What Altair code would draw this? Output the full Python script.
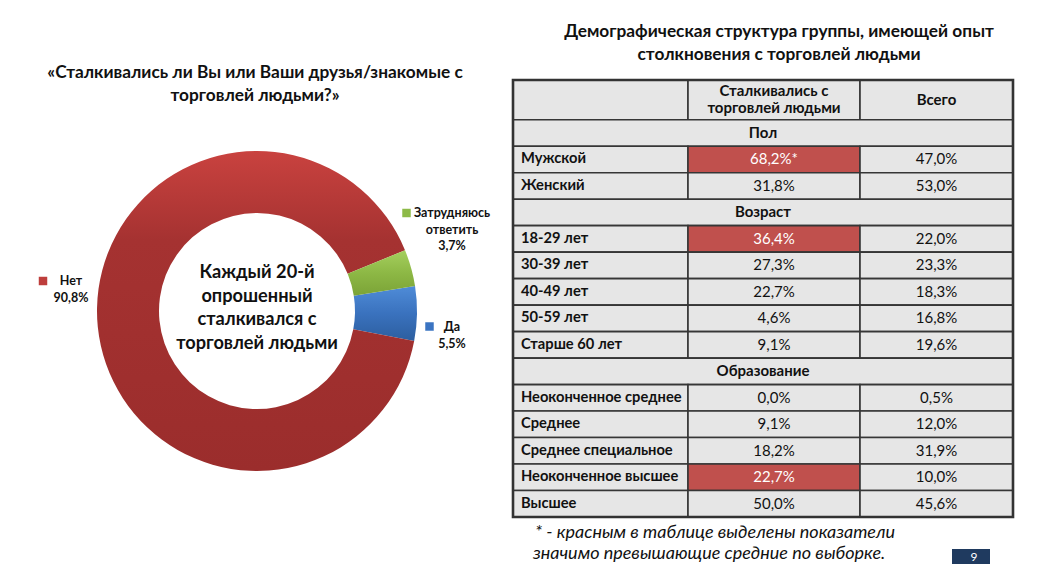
import math
import altair as alt
import pandas as pd

# ---------------- data ----------------
pie_categories = ["Да", "Нет", "Затрудняюсь ответить"]
pie_values = [5.5, 90.8, 3.7]
pie_label_names = ["Да", "Нет", "Затрудняюсь\nответить"]

section_titles = ["Пол", "Возраст", "Образование"]
row_labels = [
    ["Мужской", "Женский"],
    ["18-29 лет", "30-39 лет", "40-49 лет", "50-59 лет", "Старше 60 лет"],
    ["Неоконченное среднее", "Среднее", "Среднее специальное", "Неоконченное высшее", "Высшее"],
]
faced_values = [[68.2, 31.8], [36.4, 27.3, 22.7, 4.6, 9.1], [0.0, 9.1, 18.2, 22.7, 50.0]]
total_values = [[47.0, 53.0], [22.0, 23.3, 18.3, 16.8, 19.6], [0.5, 12.0, 31.9, 10.0, 45.6]]
highlighted = ["Мужской", "18-29 лет", "Неоконченное высшее"]
footnote_marked = ["Мужской"]
header_labels = ["", "Сталкивались с\nторговлей людьми", "Всего"]

left_title = "«Сталкивались ли Вы или Ваши друзья/знакомые с\nторговлей людьми?»"
right_title = "Демографическая структура группы, имеющей опыт\nстолкновения с торговлей людьми"
center_text = "Каждый 20-й\nопрошенный\nсталкивался с\nторговлей людьми"
footnote_lines = ["* - красным в таблице выделены показатели",
                  "значимо превышающие средние по выборке."]
page_number = "9"

# ---------------- layout / style ----------------
W, H = 1026, 556
FONT = "Lato, Roboto, sans-serif"
INK = "#111111"
GRAY = "#E6E6E6"
HL = "#C0504D"
GRID = "#363636"

TABLE_X = [505, 1005]
TABLE_Y = [72, 509]
COL_EDGES = [0, 175, 347, 500]
HEADER_UNITS = 1.5
N_UNITS = HEADER_UNITS + len(section_titles) + sum(len(r) for r in row_labels)
ROW_PX = (TABLE_Y[1] - TABLE_Y[0]) / N_UNITS
TABLE_LH = 17

PIE_CX, PIE_CY = 249, 303
R_OUT, R_IN = 160, 98
START = math.radians(81)

GRADIENTS = {
    "Нет": [("#C9423F", 0.0), ("#A53231", 0.28), ("#9B2D2C", 1.0)],
    "Да": [("#4F8CD8", 0.0), ("#3A72BE", 0.5), ("#2C5E9F", 1.0)],
    "Затрудняюсь ответить": [("#A5CF5E", 0.0), ("#8DB845", 0.5), ("#7BA337", 1.0)],
}
SQUARE_COLORS = {"Нет": "#BE3E3C", "Да": "#3A74C2", "Затрудняюсь ответить": "#8DBA48"}
LABEL_POS = {  # (square x, square y, text first-line center x, first-line y)
    "Нет": (35, 273, 63, 273),
    "Затрудняюсь ответить": (398.5, 205, 444, 205),
    "Да": (421.5, 318.5, 444, 319),
}


def fmt(v):
    return f"{v:.1f}".replace(".", ",") + "%"


# ---------------- donut ----------------
pie_df = pd.DataFrame({
    "category": pie_categories,
    "value": pie_values,
    "order": list(range(len(pie_categories))),
    "name": pie_label_names,
})
pie_df["label"] = pie_df["name"] + "\n" + pie_df["value"].map(fmt)

pie_base = (
    alt.Chart(pie_df)
    .transform_window(cum="sum(value)", sort=[alt.SortField("order")])
    .transform_calculate(start="datum.cum - datum.value")
)
theta_scale = alt.Scale(domain=[0, 100], range=[START, START + 2 * math.pi])

layers = []
for cat in pie_categories:
    grad = alt.LinearGradient(
        gradient="linear",
        stops=[alt.GradientStop(color=c, offset=o) for c, o in GRADIENTS[cat]],
        x1=0, x2=0, y1=0, y2=1,
    )
    layers.append(
        pie_base.transform_filter(alt.datum.category == cat)
        .mark_arc(outerRadius=R_OUT, innerRadius=R_IN, fill=grad)
        .encode(
            theta=alt.Theta("start:Q", scale=theta_scale),
            theta2="cum:Q",
            x=alt.value(PIE_CX),
            y=alt.value(PIE_CY),
        )
    )

# data labels with key squares
for cat in pie_categories:
    sx, sy, tx, ty = LABEL_POS[cat]
    sub = alt.Chart(pie_df).transform_filter(alt.datum.category == cat)
    layers.append(
        sub.mark_square(size=72, color=SQUARE_COLORS[cat], opacity=1)
        .encode(x=alt.value(sx), y=alt.value(sy))
    )
    layers.append(
        sub.mark_text(font=FONT, fontSize=12.5, fontWeight="bold", color=INK,
                      align="center", baseline="middle", lineBreak="\n", lineHeight=16.5)
        .encode(text="label:N", x=alt.value(tx), y=alt.value(ty))
    )

# ---------------- texts ----------------
text_df = pd.DataFrame({
    "key": ["left_title", "right_title", "center"],
    "text": [left_title, right_title, center_text],
})
txt = alt.Chart(text_df)
layers.append(
    txt.transform_filter(alt.datum.key == "left_title")
    .mark_text(font=FONT, fontSize=17.3, fontWeight="bold", color=INK, align="center",
               baseline="middle", lineBreak="\n", lineHeight=23)
    .encode(text="text:N", x=alt.value(247), y=alt.value(65))
)
layers.append(
    txt.transform_filter(alt.datum.key == "right_title")
    .mark_text(font=FONT, fontSize=17.3, fontWeight="bold", color=INK, align="center",
               baseline="middle", lineBreak="\n", lineHeight=23)
    .encode(text="text:N", x=alt.value(771), y=alt.value(24))
)
layers.append(
    txt.transform_filter(alt.datum.key == "center")
    .mark_text(font=FONT, fontSize=18.2, fontWeight="bold", color=INK, align="center",
               baseline="middle", lineBreak="\n", lineHeight=23.5)
    .encode(text="text:N", x=alt.value(249), y=alt.value(265))
)

foot_df = pd.DataFrame({"line": footnote_lines, "i": [0, 1]})
for i, (fx, fy) in enumerate([(527, 525), (525, 546)]):
    layers.append(
        alt.Chart(foot_df).transform_filter(alt.datum.i == i)
        .mark_text(font=FONT, fontSize=18, fontStyle="italic", color=INK, align="left", baseline="middle")
        .encode(text="line:N", x=alt.value(fx), y=alt.value(fy))
    )

page_df = pd.DataFrame({"num": [page_number]})
layers.append(
    alt.Chart(page_df).mark_rect(color="#1F3A5F")
    .encode(x=alt.value(944), x2=alt.value(982), y=alt.value(541), y2=alt.value(H + 4))
)
layers.append(
    alt.Chart(page_df).mark_text(font=FONT, fontSize=12, color="white", align="center", baseline="middle")
    .encode(text="num:N", x=alt.value(966), y=alt.value(549))
)

# ---------------- table ----------------
cells, left_txt, bold_txt, val_txt = [], [], [], []
for c in range(3):
    cells.append(dict(x0=COL_EDGES[c], x1=COL_EDGES[c + 1], y0=0, y1=HEADER_UNITS, fill=GRAY))
    if header_labels[c]:
        n_lines = header_labels[c].count("\n") + 1
        first_line = HEADER_UNITS / 2 - (n_lines - 1) * TABLE_LH / 2 / ROW_PX
        bold_txt.append(dict(tx=(COL_EDGES[c] + COL_EDGES[c + 1]) / 2, ty=first_line,
                             text=header_labels[c], color=INK))
r = HEADER_UNITS
for s, title in enumerate(section_titles):
    cells.append(dict(x0=COL_EDGES[0], x1=COL_EDGES[3], y0=r, y1=r + 1, fill=GRAY))
    bold_txt.append(dict(tx=(COL_EDGES[0] + COL_EDGES[3]) / 2, ty=r + 0.5, text=title, color=INK))
    r += 1
    for label, a, b in zip(row_labels[s], faced_values[s], total_values[s]):
        hl = label in highlighted
        cells.append(dict(x0=COL_EDGES[0], x1=COL_EDGES[1], y0=r, y1=r + 1, fill=GRAY))
        cells.append(dict(x0=COL_EDGES[1], x1=COL_EDGES[2], y0=r, y1=r + 1, fill=HL if hl else GRAY))
        cells.append(dict(x0=COL_EDGES[2], x1=COL_EDGES[3], y0=r, y1=r + 1, fill=GRAY))
        left_txt.append(dict(tx=COL_EDGES[0] + 8, ty=r + 0.5, text=label, color=INK))
        val_txt.append(dict(tx=(COL_EDGES[1] + COL_EDGES[2]) / 2, ty=r + 0.5,
                            text=fmt(a) + ("*" if label in footnote_marked else ""),
                            color="white" if hl else INK))
        val_txt.append(dict(tx=(COL_EDGES[2] + COL_EDGES[3]) / 2, ty=r + 0.5, text=fmt(b), color=INK))
        r += 1

xs = alt.Scale(domain=[COL_EDGES[0], COL_EDGES[-1]], range=TABLE_X)
ys = alt.Scale(domain=[0, N_UNITS], range=TABLE_Y)

layers.append(
    alt.Chart(pd.DataFrame(cells)).mark_rect(stroke=GRID, strokeWidth=1.6)
    .encode(
        x=alt.X("x0:Q", scale=xs, axis=None), x2="x1:Q",
        y=alt.Y("y0:Q", scale=ys, axis=None), y2="y1:Q",
        color=alt.Color("fill:N", scale=None),
    )
)
layers.append(
    alt.Chart(pd.DataFrame([dict(x0=COL_EDGES[0], x1=COL_EDGES[-1], y0=0, y1=N_UNITS)]))
    .mark_rect(fillOpacity=0, stroke="#333333", strokeWidth=2.6)
    .encode(x=alt.X("x0:Q", scale=xs, axis=None), x2="x1:Q",
            y=alt.Y("y0:Q", scale=ys, axis=None), y2="y1:Q")
)
for rows, align, weight, size in [(left_txt, "left", "bold", 14.7),
                                  (bold_txt, "center", "bold", 15),
                                  (val_txt, "center", "normal", 15)]:
    layers.append(
        alt.Chart(pd.DataFrame(rows))
        .mark_text(font=FONT, fontSize=size, fontWeight=weight, align=align, baseline="middle",
                   lineBreak="\n", lineHeight=TABLE_LH)
        .encode(
            x=alt.X("tx:Q", scale=xs, axis=None),
            y=alt.Y("ty:Q", scale=ys, axis=None),
            text="text:N",
            color=alt.Color("color:N", scale=None),
        )
    )

chart = (
    alt.layer(*layers)
    .properties(width=W, height=H, padding=0, autosize=alt.AutoSizeParams(type="none"),
                background="white")
    .configure_view(stroke=None)
)

chart.save("out.html", embed_options={"renderer": "svg", "actions": False})
